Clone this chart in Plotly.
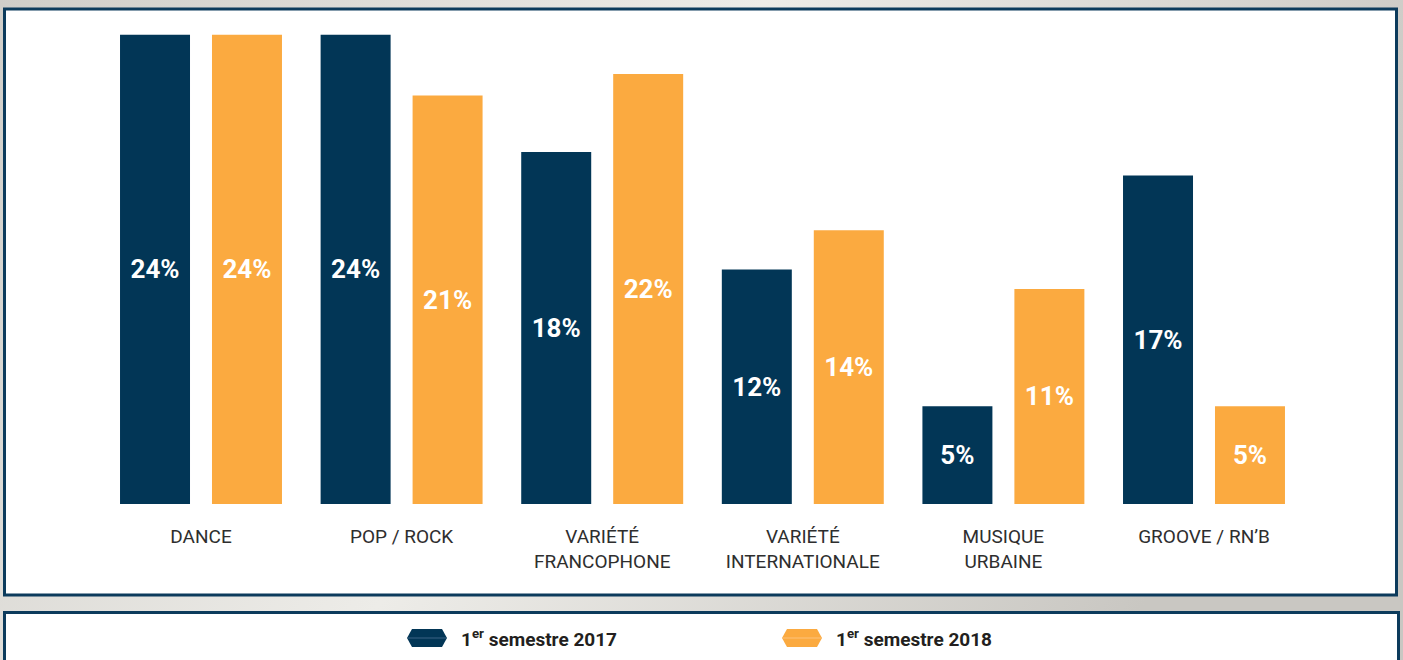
import base64
import plotly.graph_objects as go

# ---------------- data ----------------
categories = ["DANCE", "POP / ROCK", "VARIÉTÉ<br>FRANCOPHONE",
              "VARIÉTÉ<br>INTERNATIONALE", "MUSIQUE<br>URBAINE", "GROOVE / RN’B"]
series_names = ["1<sup>er</sup> semestre 2017", "1<sup>er</sup> semestre 2018"]
values_2017 = [24, 24, 18, 12, 5, 16.8]
values_2018 = [24, 20.9, 22, 14, 11, 5]
labels_2017 = ["24%", "24%", "18%", "12%", "5%", "17%"]
labels_2018 = ["24%", "21%", "22%", "14%", "11%", "5%"]

NAVY = "#023656"
ORANGE = "#FBAA40"
BORDER = "#0c3b5c"
W, H = 1403, 660

BOLD_FONT = "Roboto, Liberation Sans Narrow, sans-serif"
LABEL_FONT = "Roboto, sans-serif"


def px(x):
    return x / W


def py(y):
    return 1 - y / H


fig = go.Figure()
for name, vals, labs, col in [(series_names[0], values_2017, labels_2017, NAVY),
                              (series_names[1], values_2018, labels_2018, ORANGE)]:
    fig.add_trace(go.Bar(
        x=categories, y=vals, name=name, text=labs,
        marker=dict(color=col, line=dict(width=0)),
        textposition="inside", insidetextanchor="middle", textangle=0,
        textfont=dict(family=BOLD_FONT, size=26, color="white", weight="bold"),
        hoverinfo="skip", showlegend=False,
    ))

# background gradient image
svg = ('<svg xmlns="http://www.w3.org/2000/svg" width="1403" height="660">'
       '<defs><linearGradient id="g" x1="0" y1="0" x2="1" y2="0.3">'
       '<stop offset="0" stop-color="#d0cec9"/>'
       '<stop offset="0.5" stop-color="#edece8"/>'
       '<stop offset="1" stop-color="#c9c7c2"/>'
       '</linearGradient></defs>'
       '<rect width="1403" height="660" fill="url(#g)"/></svg>')
src = "data:image/svg+xml;base64," + base64.b64encode(svg.encode()).decode()

shapes = [
    # main chart panel
    dict(type="rect", xref="paper", yref="paper", layer="below",
         x0=px(4.5), x1=px(1396.5), y0=py(595), y1=py(9),
         fillcolor="white", line=dict(color=BORDER, width=3)),
    # legend panel
    dict(type="rect", xref="paper", yref="paper", layer="below",
         x0=px(4.5), x1=px(1398.5), y0=py(675), y1=py(612.5),
         fillcolor="white", line=dict(color=BORDER, width=3)),
]

annotations = []
legend_items = [(series_names[0], NAVY, "#3a6284", 407),
                (series_names[1], ORANGE, "#fdc27a", 782)]
for name, col, hl, x0 in legend_items:
    cy = 638
    w, h, tip = 40, 18, 5
    pts = [(x0, cy), (x0 + tip, cy - h / 2), (x0 + w - tip, cy - h / 2),
           (x0 + w, cy), (x0 + w - tip, cy + h / 2), (x0 + tip, cy + h / 2)]
    path = "M " + " L ".join(f"{px(a):.6f},{py(b):.6f}" for a, b in pts) + " Z"
    shapes.append(dict(type="path", xref="paper", yref="paper", path=path,
                       fillcolor=col, line=dict(width=0)))
    shapes.append(dict(type="line", xref="paper", yref="paper",
                       x0=px(x0 + 1), x1=px(x0 + w - 1), y0=py(cy), y1=py(cy),
                       line=dict(color=hl, width=1)))
    annotations.append(dict(xref="paper", yref="paper", x=px(x0 + w + 12), y=py(cy),
                            xanchor="left", yanchor="middle", showarrow=False,
                            text=f"<b>{name}</b>",
                            font=dict(family=BOLD_FONT, size=19, color="#231f20")))

fig.update_layout(
    width=W, height=H,
    margin=dict(l=0, r=0, t=0, b=0),
    paper_bgcolor="#dddbd6",
    plot_bgcolor="rgba(0,0,0,0)",
    barmode="group", bargap=0.083, bargroupgap=0.239,
    showlegend=False,
    shapes=shapes,
    annotations=annotations,
    images=[dict(source=src, xref="paper", yref="paper", x=0, y=1,
                 sizex=1, sizey=1, sizing="stretch", layer="below",
                 xanchor="left", yanchor="top")],
    xaxis=dict(domain=[px(100.7), px(1304.3)], range=[-0.5, 5.5],
               showgrid=False, showline=False, zeroline=False, ticks="",
               automargin=False, ticklabelstandoff=19,
               tickfont=dict(family=LABEL_FONT, size=19, color="#2e2e2e")),
    yaxis=dict(domain=[156 / H, 635 / H], range=[0, 24.5], visible=False,
               automargin=False),
)

fig.write_html("out.html",
               config={"displayModeBar": False, "staticPlot": True},
               post_script="document.body.style.margin='0';"
                           "document.body.style.overflow='hidden';")
